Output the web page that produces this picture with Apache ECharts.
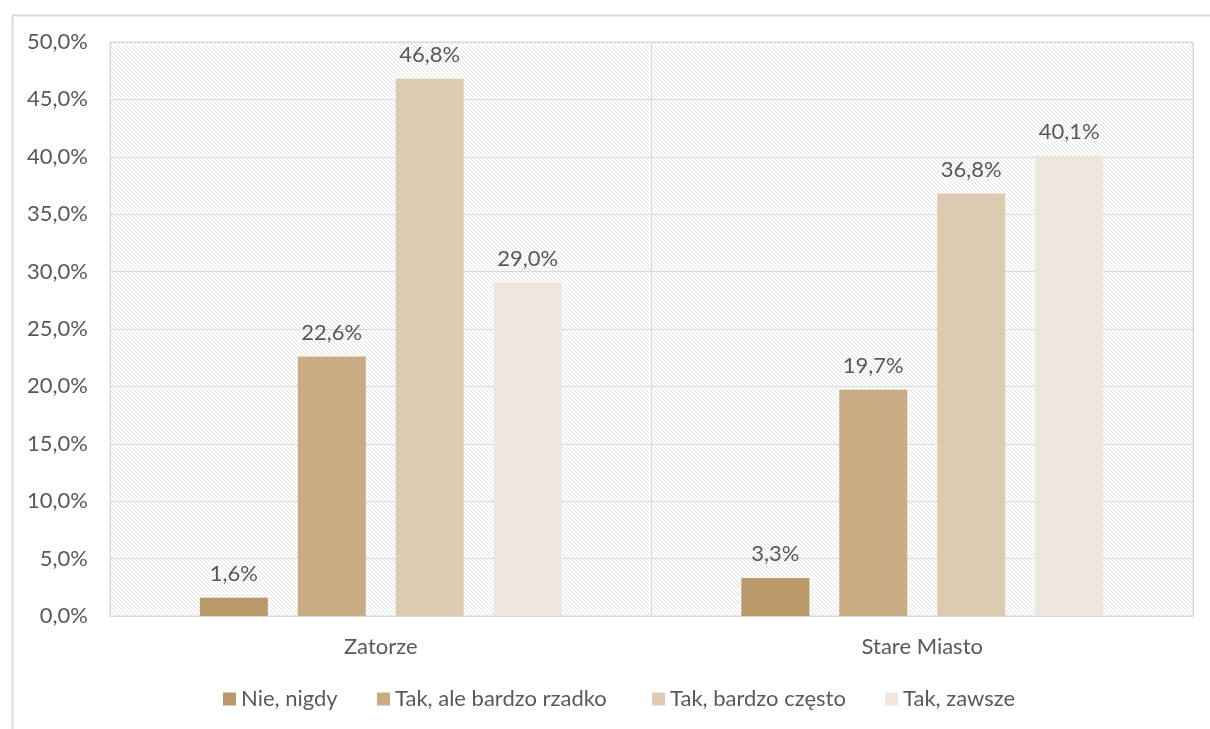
<!DOCTYPE html>
<html>
<head>
<meta charset="utf-8">
<script src="https://cdn.jsdelivr.net/npm/echarts@6/dist/echarts.min.js"></script>
<style>
html,body{margin:0;padding:0;background:#fff;}
#chart{width:1210px;height:729px;}
</style>
</head>
<body>
<div id="chart"></div>
<script>
var categories = ['Zatorze', 'Stare Miasto'];
var seriesNames = ['Nie, nigdy', 'Tak, ale bardzo rzadko', 'Tak, bardzo często', 'Tak, zawsze'];
var nieNigdy = [1.6, 3.3];
var takRzadko = [22.6, 19.7];
var takCzesto = [46.8, 36.8];
var takZawsze = [29.0, 40.1];
var yTicks = [0, 5, 10, 15, 20, 25, 30, 35, 40, 45, 50];

var values = [nieNigdy, takRzadko, takCzesto, takZawsze];
var colors = ['#B9996A', '#C9AB84', '#DDCBB1', '#EEE6DC'];
var legendLefts = [223, 377, 652, 885];
var FONT = 'Lato';
var FS = 22;
var TXT = '#595959';

function fmt(v) { return v.toFixed(1).replace('.', ',') + '%'; }

// hatch pattern
var P = 4;
var pc = document.createElement('canvas');
pc.width = P; pc.height = P;
var ctx = pc.getContext('2d');
ctx.fillStyle = '#ffffff';
ctx.fillRect(0, 0, P, P);
ctx.fillStyle = '#e2e2e2';
for (var i = 0; i < P; i++) { ctx.fillRect(i, i, 1, 1); }

var chart = echarts.init(document.getElementById('chart'), null, {renderer: 'canvas'});
var series = seriesNames.map(function (n, idx) {
  return {
    name: n,
    type: 'bar',
    data: values[idx],
    barWidth: 68,
    barGap: '44%',
    itemStyle: {color: colors[idx]},
    label: {
      show: true, position: 'top', distance: 13,
      formatter: function (p) { return fmt(p.value); },
      fontFamily: FONT, fontSize: FS, color: TXT
    }
  };
});

var legends = seriesNames.map(function (n, idx) {
  return {
    data: [n],
    left: legendLefts[idx], top: 688,
    padding: 0,
    itemWidth: 13, itemHeight: 13,
    icon: 'rect',
    textStyle: {fontFamily: FONT, fontSize: FS, color: TXT}
  };
});

chart.setOption({
  animation: false,
  backgroundColor: '#ffffff',
  graphic: [{
    type: 'rect', left: 10, top: 13, z: -10,
    shape: {width: 1260, height: 800},
    style: {fill: 'none', stroke: '#d9d9d9', lineWidth: 2}
  }],
  grid: {
    left: 110, top: 42, right: 17, bottom: 113,
    show: true, backgroundColor: {image: pc, repeat: 'repeat'},
    borderColor: '#d9d9d9', borderWidth: 1
  },
  legend: legends,
  xAxis: {
    type: 'category', data: categories,
    axisLine: {show: true, lineStyle: {color: '#d9d9d9', width: 1}},
    axisTick: {show: false},
    splitLine: {show: true, lineStyle: {color: '#d9d9d9', width: 1}},
    axisLabel: {fontFamily: FONT, fontSize: FS, color: TXT, margin: 20}
  },
  yAxis: {
    type: 'value', min: yTicks[0], max: yTicks[yTicks.length - 1], interval: 5,
    axisLine: {show: false}, axisTick: {show: false},
    splitLine: {lineStyle: {color: '#d9d9d9', width: 1}},
    axisLabel: {fontFamily: FONT, fontSize: FS, color: TXT, margin: 22,
      formatter: function (v) { return fmt(v); }}
  },
  series: series
});
</script>
</body>
</html>
